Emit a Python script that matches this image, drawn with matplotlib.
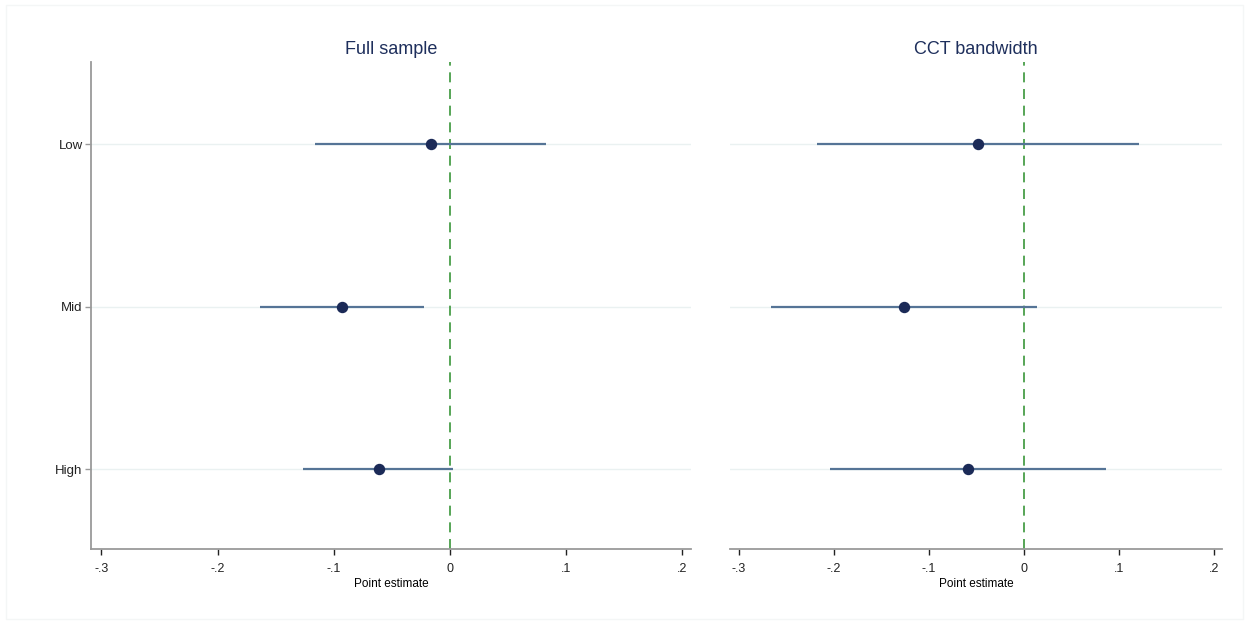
import matplotlib
matplotlib.use("Agg")
import matplotlib.pyplot as plt
from matplotlib.patches import Rectangle

plt.rcParams['font.family'] = ['Liberation Sans', 'DejaVu Sans']

# coefficients by group, two samples
groups = ['Low', 'Mid', 'High']
full_est = [-0.016, -0.093, -0.061]
full_lo = [-0.116, -0.163, -0.126]
full_hi = [0.083, -0.022, 0.003]

cct_est = [-0.048, -0.126, -0.059]
cct_lo = [-0.218, -0.266, -0.204]
cct_hi = [0.121, 0.014, 0.086]

xticks = [-0.3, -0.2, -0.1, 0, 0.1, 0.2]
xticklabels = ['-.3', '-.2', '-.1', '0', '.1', '.2']

ci_color = '#557496'
pt_color = '#1b2a57'
ref_color = '#3a963a'
axis_color = '#9a9a9a'
grid_color = '#eaf1f1'
title_color = '#1e2f5c'

fig = plt.figure(figsize=(12.49, 6.23), dpi=100)
fig.patches.append(Rectangle((0.005, 0.006), 0.99, 0.986, transform=fig.transFigure,
                             fill=False, edgecolor='#f4f6f6', linewidth=1.0))

ax1 = fig.add_axes([0.0729, 0.1188, 0.4804, 0.7817])
ax2 = fig.add_axes([0.5845, 0.1188, 0.3939, 0.7817])

panels = [
    (ax1, 'Full sample', full_est, full_lo, full_hi),
    (ax2, 'CCT bandwidth', cct_est, cct_lo, cct_hi),
]

ypos = list(range(1, len(groups) + 1))

for ax, title, est, lo, hi in panels:
    for y in ypos:
        ax.axhline(y, color=grid_color, linewidth=1.0, zorder=0)
    ax.axvline(0, color=ref_color, linewidth=1.2, linestyle=(0, (6, 4)), zorder=1)
    ax.hlines(ypos, lo, hi, color=ci_color, linewidth=1.6, zorder=2)
    ax.plot(est, ypos, 'o', color=pt_color, markersize=7.2, zorder=3)

    ax.set_xlim(-0.309, 0.208)
    ax.set_ylim(3.49, 0.495)
    ax.set_xticks(xticks)
    ax.set_xticklabels(xticklabels)
    ax.set_xlabel('Point estimate', fontsize=8.5, labelpad=2)
    ax.set_title(title, fontsize=13, color=title_color, pad=6)

    for s in ['top', 'right']:
        ax.spines[s].set_visible(False)
    ax.spines['bottom'].set_color(axis_color)
    ax.spines['bottom'].set_linewidth(1.3)
    ax.tick_params(axis='x', colors='#222222', labelsize=9, length=4,
                   width=1.0, pad=6)
    for t in ax.xaxis.get_ticklines():
        t.set_color(axis_color)

ax1.spines['left'].set_color(axis_color)
ax1.spines['left'].set_linewidth(1.3)
ax1.set_yticks(ypos)
ax1.set_yticklabels(groups)
ax1.tick_params(axis='y', labelsize=9.5, length=4, width=1.0, color=axis_color,
                labelcolor='#222222', pad=2)

ax2.spines['left'].set_visible(False)
ax2.set_yticks([])

fig.savefig('out.png', dpi=100, facecolor='white')
